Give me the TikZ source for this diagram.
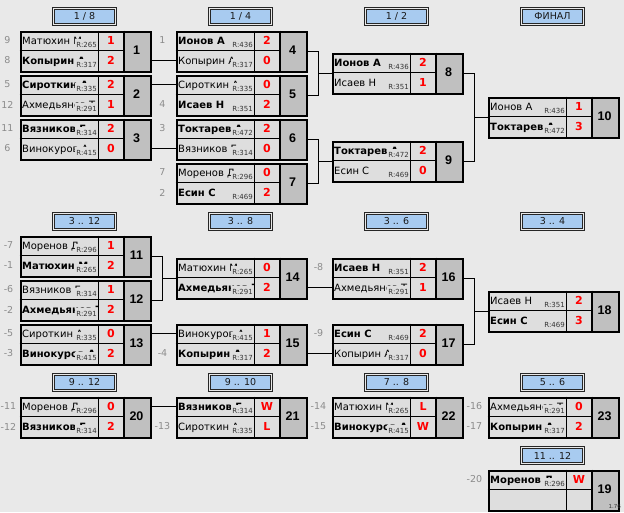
\documentclass[tikz,border=0pt]{standalone}
\usepackage{fontspec}
\setmainfont{DejaVu Sans}
\newfontfamily\libsans{Liberation Sans}
\usetikzlibrary{calc}
\definecolor{bgc}{HTML}{E9E9E9}
\definecolor{cellc}{HTML}{DEDEDE}
\definecolor{numc}{HTML}{C0C0C0}
\definecolor{hdrc}{HTML}{A8CBF0}
\definecolor{seedc}{HTML}{8C8C8C}
\definecolor{ratc}{HTML}{333333}
\definecolor{scorec}{HTML}{FF0000}
\tikzset{
 namecell/.style={minimum width=79pt,minimum height=20pt,inner sep=0pt,anchor=north west},
 nametext/.style={inner sep=0pt,anchor=base west,font=\fontsize{10}{12}\selectfont},
 prating/.style={inner xsep=1pt,inner ysep=0pt,text height=8.9pt,text depth=1.5pt,fill=cellc,anchor=base east,text=ratc,font=\fontsize{7}{8}\selectfont},
 pscore/.style={inner sep=0pt,text=scorec,font=\bfseries\fontsize{11}{12}\selectfont},
 numtext/.style={inner sep=0pt,font=\libsans\bfseries\fontsize{12.5}{14}\selectfont},
 mframe/.style={draw,line width=2pt,minimum width=130pt,minimum height=40pt,inner sep=0pt,anchor=north west},
 pseed/.style={inner sep=0pt,text=seedc,font=\fontsize{9.5}{11}\selectfont},
 conn/.style={line width=1pt},
 hdrout/.style={draw=black!85,line width=1pt,minimum width=64pt,minimum height=18pt,inner sep=0pt},
 hdrin/.style={draw=black!85,fill=hdrc,line width=1pt,minimum width=60pt,minimum height=14pt,inner sep=0pt,font=\fontsize{9.5}{11}\selectfont,text=black!90},
}
\newcommand\matchbg[4]{%
 \fill[cellc] (#2,#3) rectangle ++(104,40);
 \fill[numc] (#2+104,#3) rectangle ++(26,40);
 \node[numtext] (#1n) at (#2+117,#3+20) {#4};}
\newcommand\prow[7]{%
 \begin{scope}
 \clip (#2,#3) rectangle ++(79,20);
 \node[namecell] (#1) at (#2,#3) {};
 \node[nametext] at (#2+2.5,#3+13.6) {#4#5};
 \node[prating] at (#2+78.5,#3+17) {R:#6};
 \end{scope}
 \node[pscore] at (#2+91.5,#3+10) {#7};}
\newcommand\mframe[3]{%
 \draw[line width=1pt] (#2,#3+20) -- ++(104,0);
 \draw[line width=1pt] (#2+79,#3) -- ++(0,40);
 \draw[line width=2pt] (#2+104,#3) -- ++(0,40);
 \node[mframe] (#1) at (#2,#3) {};}
\newcommand\hdr[4]{%
 \node[hdrout] (#1) at (#2,#3) {};
 \node[hdrin] (#1t) at (#2,#3) {#4};}
\begin{document}
\begin{tikzpicture}[x=1pt,y=-1pt]
\useasboundingbox (0,0) rectangle (624,512);
\fill[bgc] (0,0) rectangle (624,512);
% headers
\hdr{h1}{84.5}{16.5}{1 / 8}
\hdr{h2}{240.5}{16.5}{1 / 4}
\hdr{h3}{396.5}{16.5}{1 / 2}
\hdr{h4}{552.5}{16.5}{ФИНАЛ}
\hdr{h5}{84.5}{221.5}{3 .. 12}
\hdr{h6}{240.5}{221.5}{3 .. 8}
\hdr{h7}{396.5}{221.5}{3 .. 6}
\hdr{h8}{552.5}{221.5}{3 .. 4}
\hdr{h9}{84.5}{382.5}{9 .. 12}
\hdr{h10}{240.5}{382.5}{9 .. 10}
\hdr{h11}{396.5}{382.5}{7 .. 8}
\hdr{h12}{552.5}{382.5}{5 .. 6}
\hdr{h13}{552.5}{455.5}{11 .. 12}
% ---- 1/8
\matchbg{m1}{19.5}{30.5}{1}
\prow{m1a}{19.5}{30.5}{}{Матюхин М}{265}{1}
\prow{m1b}{19.5}{50.5}{\bfseries}{Копырин А}{317}{2}
\mframe{m1}{19.5}{30.5}
\matchbg{m2}{19.5}{74.5}{2}
\prow{m2a}{19.5}{74.5}{\bfseries}{Сироткин А}{335}{2}
\prow{m2b}{19.5}{94.5}{}{Ахмедьянов Т}{291}{1}
\mframe{m2}{19.5}{74.5}
\matchbg{m3}{19.5}{118.5}{3}
\prow{m3a}{19.5}{118.5}{\bfseries}{Вязников Е}{314}{2}
\prow{m3b}{19.5}{138.5}{}{Винокуров А}{415}{0}
\mframe{m3}{19.5}{118.5}
% ---- 1/4
\matchbg{m4}{175.5}{30.5}{4}
\prow{m4a}{175.5}{30.5}{\bfseries}{Ионов А}{436}{2}
\prow{m4b}{175.5}{50.5}{}{Копырин А}{317}{0}
\mframe{m4}{175.5}{30.5}
\matchbg{m5}{175.5}{74.5}{5}
\prow{m5a}{175.5}{74.5}{}{Сироткин А}{335}{0}
\prow{m5b}{175.5}{94.5}{\bfseries}{Исаев Н}{351}{2}
\mframe{m5}{175.5}{74.5}
\matchbg{m6}{175.5}{118.5}{6}
\prow{m6a}{175.5}{118.5}{\bfseries}{Токтарев А}{472}{2}
\prow{m6b}{175.5}{138.5}{}{Вязников Е}{314}{0}
\mframe{m6}{175.5}{118.5}
\matchbg{m7}{175.5}{162.5}{7}
\prow{m7a}{175.5}{162.5}{}{Моренов Д}{296}{0}
\prow{m7b}{175.5}{182.5}{\bfseries}{Есин С}{469}{2}
\mframe{m7}{175.5}{162.5}
% ---- 1/2
\matchbg{m8}{331.5}{52.5}{8}
\prow{m8a}{331.5}{52.5}{\bfseries}{Ионов А}{436}{2}
\prow{m8b}{331.5}{72.5}{}{Исаев Н}{351}{1}
\mframe{m8}{331.5}{52.5}
\matchbg{m9}{331.5}{140.5}{9}
\prow{m9a}{331.5}{140.5}{\bfseries}{Токтарев А}{472}{2}
\prow{m9b}{331.5}{160.5}{}{Есин С}{469}{0}
\mframe{m9}{331.5}{140.5}
% ---- final
\matchbg{m10}{487.5}{96.5}{10}
\prow{m10a}{487.5}{96.5}{}{Ионов А}{436}{1}
\prow{m10b}{487.5}{116.5}{\bfseries}{Токтарев А}{472}{3}
\mframe{m10}{487.5}{96.5}
% ---- 3..12
\matchbg{m11}{19.5}{235.5}{11}
\prow{m11a}{19.5}{235.5}{}{Моренов Д}{296}{1}
\prow{m11b}{19.5}{255.5}{\bfseries}{Матюхин М}{265}{2}
\mframe{m11}{19.5}{235.5}
\matchbg{m12}{19.5}{279.5}{12}
\prow{m12a}{19.5}{279.5}{}{Вязников Е}{314}{1}
\prow{m12b}{19.5}{299.5}{\bfseries}{Ахмедьянов Т}{291}{2}
\mframe{m12}{19.5}{279.5}
\matchbg{m13}{19.5}{323.5}{13}
\prow{m13a}{19.5}{323.5}{}{Сироткин А}{335}{0}
\prow{m13b}{19.5}{343.5}{\bfseries}{Винокуров А}{415}{2}
\mframe{m13}{19.5}{323.5}
% ---- 3..8
\matchbg{m14}{175.5}{257.5}{14}
\prow{m14a}{175.5}{257.5}{}{Матюхин М}{265}{0}
\prow{m14b}{175.5}{277.5}{\bfseries}{Ахмедьянов Т}{291}{2}
\mframe{m14}{175.5}{257.5}
\matchbg{m15}{175.5}{323.5}{15}
\prow{m15a}{175.5}{323.5}{}{Винокуров А}{415}{1}
\prow{m15b}{175.5}{343.5}{\bfseries}{Копырин А}{317}{2}
\mframe{m15}{175.5}{323.5}
% ---- 3..6
\matchbg{m16}{331.5}{257.5}{16}
\prow{m16a}{331.5}{257.5}{\bfseries}{Исаев Н}{351}{2}
\prow{m16b}{331.5}{277.5}{}{Ахмедьянов Т}{291}{1}
\mframe{m16}{331.5}{257.5}
\matchbg{m17}{331.5}{323.5}{17}
\prow{m17a}{331.5}{323.5}{\bfseries}{Есин С}{469}{2}
\prow{m17b}{331.5}{343.5}{}{Копырин А}{317}{0}
\mframe{m17}{331.5}{323.5}
% ---- 3..4
\matchbg{m18}{487.5}{290.5}{18}
\prow{m18a}{487.5}{290.5}{}{Исаев Н}{351}{2}
\prow{m18b}{487.5}{310.5}{\bfseries}{Есин С}{469}{3}
\mframe{m18}{487.5}{290.5}
% ---- bottom row
\matchbg{m20}{19.5}{396.5}{20}
\prow{m20a}{19.5}{396.5}{}{Моренов Д}{296}{0}
\prow{m20b}{19.5}{416.5}{\bfseries}{Вязников Е}{314}{2}
\mframe{m20}{19.5}{396.5}
\matchbg{m21}{175.5}{396.5}{21}
\prow{m21a}{175.5}{396.5}{\bfseries}{Вязников Е}{314}{W}
\prow{m21b}{175.5}{416.5}{}{Сироткин А}{335}{L}
\mframe{m21}{175.5}{396.5}
\matchbg{m22}{331.5}{396.5}{22}
\prow{m22a}{331.5}{396.5}{}{Матюхин М}{265}{L}
\prow{m22b}{331.5}{416.5}{\bfseries}{Винокуров А}{415}{W}
\mframe{m22}{331.5}{396.5}
\matchbg{m23}{487.5}{396.5}{23}
\prow{m23a}{487.5}{396.5}{}{Ахмедьянов Т}{291}{0}
\prow{m23b}{487.5}{416.5}{\bfseries}{Копырин А}{317}{2}
\mframe{m23}{487.5}{396.5}
\matchbg{m19}{487.5}{469.5}{19}
\prow{m19a}{487.5}{469.5}{\bfseries}{Моренов Д}{296}{W}
\node[namecell] (m19b) at (487.5,489.5) {};
\mframe{m19}{487.5}{469.5}
% seeds
\node[pseed] (s1) at (7.5,40.5) {9};
\node[pseed] (s2) at (7.5,60.5) {8};
\node[pseed] (s3) at (7.5,84.5) {5};
\node[pseed] (s4) at (7.5,104.5) {12};
\node[pseed] (s5) at (7.5,128.5) {11};
\node[pseed] (s6) at (7.5,148.5) {6};
\node[pseed] (s7) at (162.5,40.5) {1};
\node[pseed] (s8) at (162.5,104.5) {4};
\node[pseed] (s9) at (162.5,128.5) {3};
\node[pseed] (s10) at (162.5,172.5) {7};
\node[pseed] (s11) at (162.5,192.5) {2};
\node[pseed] (s12) at (8.5,245.5) {-7};
\node[pseed] (s13) at (8.5,265.5) {-1};
\node[pseed] (s14) at (8.5,289.5) {-6};
\node[pseed] (s15) at (8.5,309.5) {-2};
\node[pseed] (s16) at (8.5,333.5) {-5};
\node[pseed] (s17) at (8.5,353.5) {-3};
\node[pseed] (s18) at (162.5,353.5) {-4};
\node[pseed] (s19) at (318.5,267.5) {-8};
\node[pseed] (s20) at (318.5,333.5) {-9};
\node[pseed] (s21) at (8.5,406.5) {-11};
\node[pseed] (s22) at (8.5,426.5) {-12};
\node[pseed] (s23) at (162.5,426.5) {-13};
\node[pseed] (s24) at (318.5,406.5) {-14};
\node[pseed] (s25) at (318.5,426.5) {-15};
\node[pseed] (s26) at (474.5,406.5) {-16};
\node[pseed] (s27) at (474.5,426.5) {-17};
\node[pseed] (s28) at (474.5,479.5) {-20};
% connectors
\draw[conn] (m1.east |- m4b.west) -- (m4b.west);
\draw[conn] (m2.east |- m5a.west) -- (m5a.west);
\draw[conn] (m3.east |- m6b.west) -- (m6b.west);
\coordinate (j8) at ($(m8.west)+(-13,0)$);
\draw[conn] (m4.east) -| (j8) |- (m5.east);
\draw[conn] (j8) -- (m8.west);
\coordinate (j9) at ($(m9.west)+(-13,0)$);
\draw[conn] (m6.east) -| (j9) |- (m7.east);
\draw[conn] (j9) -- (m9.west);
\coordinate (j10) at ($(m10.west)+(-13,0)$);
\draw[conn] (m8.east) -| (j10) |- (m9.east);
\draw[conn] (j10) -- (m10.west);
\coordinate (j14) at ($(m14.west)+(-13,0)$);
\draw[conn] (m11.east) -| (j14) |- (m12.east);
\draw[conn] (j14) -- (m14.west);
\draw[conn] (m13.east |- m15a.west) -- (m15a.west);
\draw[conn] (m14.east |- m16b.west) -- (m16b.west);
\draw[conn] (m15.east |- m17b.west) -- (m17b.west);
\coordinate (j18) at ($(m18.west)+(-13,0)$);
\draw[conn] (m16.east) -| (j18) |- (m17.east);
\draw[conn] (j18) -- (m18.west);
\draw[conn] (m20.east |- m21a.west) -- (m21a.west);
% version
\node[inner sep=0pt,anchor=south east,font=\fontsize{5.5}{6}\selectfont,text=black!80] (ver) at (621,509) {1.76};
\end{tikzpicture}
\end{document}
